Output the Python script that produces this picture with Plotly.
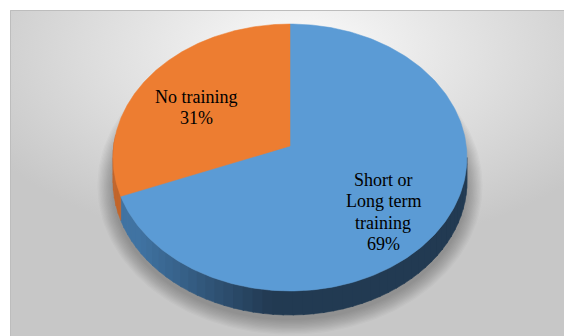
import base64
import numpy as np
import plotly.graph_objects as go

# ---------------- data ----------------
categories = ["Short or Long term training", "No training"]
label_lines = [["Short or", "Long term", "training"], ["No training"]]
values = [69, 31]
top_colors = ["#5b9bd5", "#ed7d31"]
side_colors_light = ["#4073a2", "#c2652a"]
side_colors_dark = ["#223a52", "#a9551f"]

# ---------------- geometry (pixel space, perspective disc) ----------------
W, H = 564, 336
cx, cy = 290.0, 146.0      # projected disc centre
A, B, k = 176.3, 132.5, 0.0861  # horizontal / vertical radius and perspective factor
depth = 24.0
start_angle = 90.0  # first slice starts at 12 o'clock, clockwise
line_gap = 21.5


def pt(t_deg, dy=0.0, f=1.0, fy=None):
    fy = f if fy is None else fy
    t = np.radians(t_deg)
    return (cx + A * f * np.cos(t) / (1 + k * f * np.sin(t)),
            cy + dy - B * fy * np.sin(t) / (1 + k * fy * np.sin(t)))


def arc(t0, t1, n=120, dy=0.0):
    ts = np.linspace(t0, t1, n)
    xs, ys = pt(ts, dy)
    return list(xs), list(ys)


def mix(c1, c2, f):
    a = [int(c1[i:i + 2], 16) for i in (1, 3, 5)]
    b = [int(c2[i:i + 2], 16) for i in (1, 3, 5)]
    return "rgb(%d,%d,%d)" % tuple(round(a[j] + (b[j] - a[j]) * f) for j in range(3))


fig = go.Figure()

# soft shadow beneath the pie
ex, ey, erx, ery = 290.0, 157.5 + depth + 4, 177.0, 133.5
for g in range(12, 0, -1):
    ts = np.radians(np.linspace(0, 360, 200))
    xs = ex + (erx + g * 1.3) * np.cos(ts)
    ys = ey - (ery + g * 1.3) * np.sin(ts)
    fig.add_trace(go.Scatter(x=xs, y=ys, fill="toself", mode="lines", line=dict(width=0),
                             fillcolor="rgba(0,0,0,0.022)", hoverinfo="skip", showlegend=False))

# slice angles (clockwise from 12 o'clock)
total = sum(values)
bounds = []
a = start_angle
for v in values:
    b = a - 360.0 * v / total
    bounds.append((a, b))
    a = b

# visible front wall between the silhouette points
vis0 = -180.0 - np.degrees(np.arcsin(k))
vis1 = np.degrees(np.arcsin(-k))
for i, (a0, a1) in enumerate(bounds):
    lo, hi = min(a0, a1), max(a0, a1)
    for shift in (0, -360, 360):
        s0, s1 = max(lo + shift, vis0), min(hi + shift, vis1)
        if s1 <= s0:
            continue
        nseg = max(2, int((s1 - s0) / 3))
        edges = np.linspace(s0, s1, nseg + 1)
        for j in range(nseg):
            e0, e1 = edges[j], edges[j + 1]
            xm, _ = pt((e0 + e1) / 2)
            f = min(max((xm - 140) / 130.0, 0), 1)
            col = mix(side_colors_light[i], side_colors_dark[i], f)
            e1b = min(e1 + 0.4, s1)
            tx, ty = arc(e0, e1b, 6)
            bx, byy = arc(e1b, e0, 6, dy=depth)
            fig.add_trace(go.Scatter(x=tx + bx, y=ty + byy, fill="toself", mode="lines",
                                     line=dict(width=0.6, color=col), fillcolor=col,
                                     hoverinfo="skip", showlegend=False))

# top faces
for i, (a0, a1) in enumerate(bounds):
    xs, ys = arc(a0, a1, 240)
    fig.add_trace(go.Scatter(x=[cx] + xs + [cx], y=[cy] + ys + [cy], fill="toself", mode="lines",
                             line=dict(width=0.5, color=top_colors[i]), fillcolor=top_colors[i],
                             name=categories[i], hoverinfo="skip", showlegend=False))

# labels (one annotation per line for Excel-like line spacing)
for i, (a0, a1) in enumerate(bounds):
    mid = (a0 + a1) / 2
    lx, ly = pt(mid, dy=12, f=0.64, fy=0.70)
    lines = label_lines[i] + [f"{round(100 * values[i] / total)}%"]
    n = len(lines)
    for j, txt in enumerate(lines):
        fig.add_annotation(x=float(lx) - 3, y=float(ly) + (j - (n - 1) / 2) * line_gap,
                           xref="x", yref="y", showarrow=False, text=txt,
                           font=dict(family="Liberation Serif, Times New Roman, serif", size=18,
                                     color="#000000"))

# background gradient frame
svg = ('<svg xmlns="http://www.w3.org/2000/svg" width="580" height="326" preserveAspectRatio="none">'
       '<defs><radialGradient id="g" cx="50%" cy="12%" r="62%">'
       '<stop offset="0" stop-color="#fbfbfb"/><stop offset="1" stop-color="#c7c7c7"/>'
       '</radialGradient></defs><rect width="580" height="326" fill="url(#g)"/></svg>')
src = "data:image/svg+xml;base64," + base64.b64encode(svg.encode()).decode()
fig.add_layout_image(dict(source=src, xref="paper", yref="paper", x=10 / W, y=1 - 10 / H,
                          sizex=580 / W, sizey=326 / H, xanchor="left", yanchor="top",
                          sizing="stretch", layer="below"))
fig.add_shape(type="rect", xref="x", yref="y", x0=10.5, y0=10.5, x1=600, y1=400,
              line=dict(color="#bdbdbd", width=1), layer="below")

fig.update_layout(width=W, height=H, margin=dict(l=0, r=0, t=0, b=0),
                  paper_bgcolor="#ffffff", plot_bgcolor="rgba(0,0,0,0)",
                  xaxis=dict(range=[0, W], visible=False, fixedrange=True),
                  yaxis=dict(range=[H, 0], visible=False, fixedrange=True),
                  showlegend=False)

fig.write_html("out.html")
